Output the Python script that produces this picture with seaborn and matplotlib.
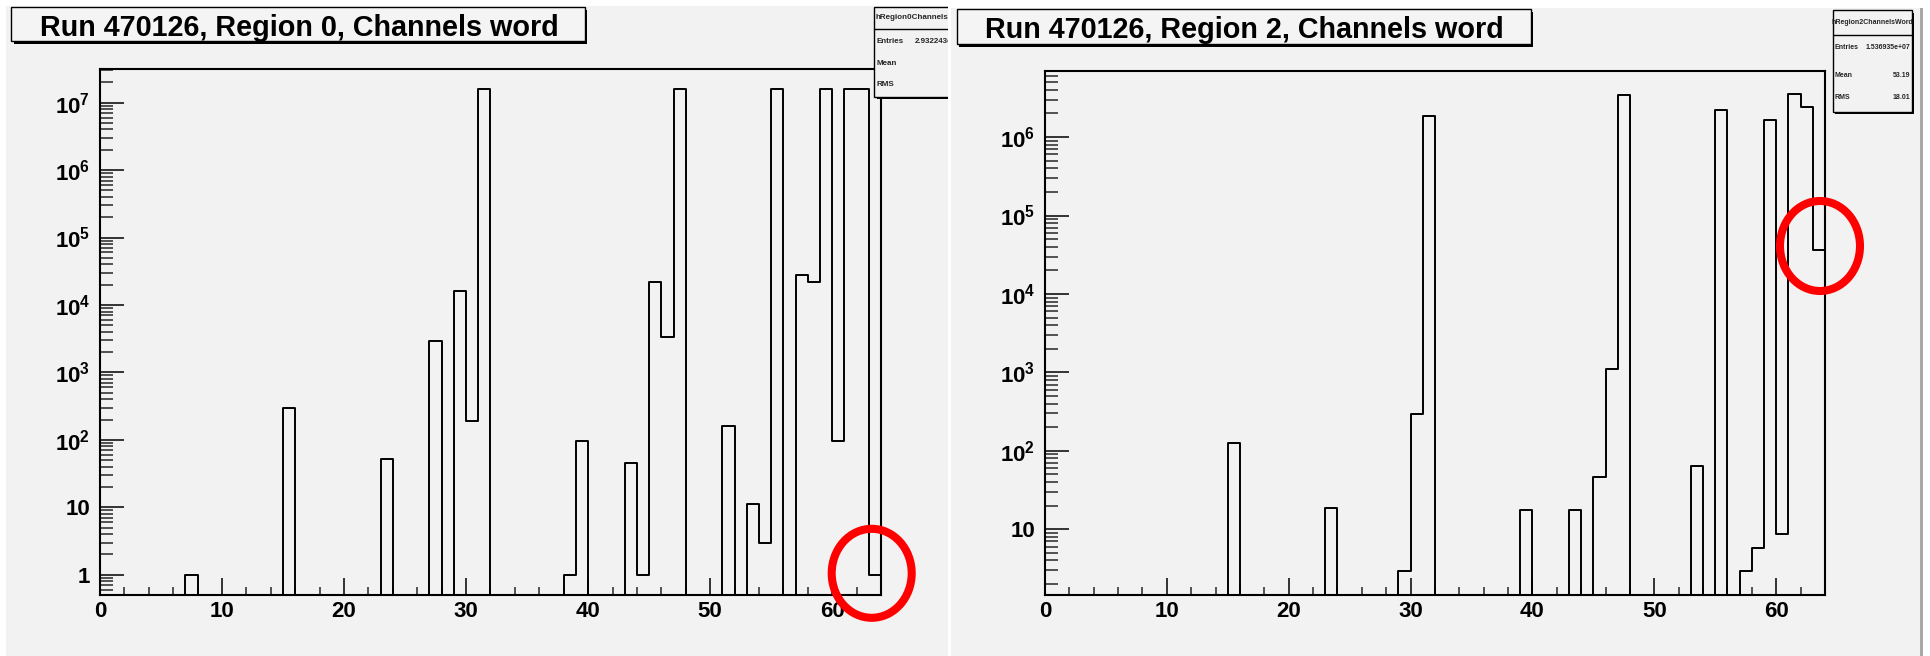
import numpy as np
import pandas as pd
import matplotlib
matplotlib.use("Agg")
import matplotlib.pyplot as plt
import seaborn as sns
from matplotlib.patches import Rectangle, Ellipse
from matplotlib.lines import Line2D
from matplotlib.transforms import Bbox, TransformedBbox
from matplotlib.ticker import (FixedLocator, FixedFormatter, LogLocator,
                               MultipleLocator, NullFormatter)

# ---------------- data ----------------
bin_edges = list(range(0, 65))
channels = [i + 0.5 for i in range(64)]

region0_counts = [
    0, 0, 0, 0, 0, 0, 0, 1,            # 0-7
    0, 0, 0, 0, 0, 0, 0, 300,          # 8-15
    0, 0, 0, 0, 0, 0, 0, 52,           # 16-23
    0, 0, 0, 2900, 0, 16000, 190, 1.6e7,   # 24-31
    0, 0, 0, 0, 0, 0, 1, 95,           # 32-39
    0, 0, 0, 45, 1, 22000, 3300, 1.6e7,    # 40-47
    0, 0, 0, 160, 0, 11, 3, 1.6e7,     # 48-55
    0, 28000, 22000, 1.6e7, 95, 1.6e7, 1.6e7, 1,  # 56-63
]

region2_counts = [
    0, 0, 0, 0, 0, 0, 0, 0,            # 0-7
    0, 0, 0, 0, 0, 0, 0, 124,          # 8-15
    0, 0, 0, 0, 0, 0, 0, 18.6,         # 16-23
    0, 0, 0, 0, 0, 2.9, 297, 1.85e6,   # 24-31
    0, 0, 0, 0, 0, 0, 0, 17.6,         # 32-39
    0, 0, 0, 17.6, 0, 45.7, 1100, 3.45e6,  # 40-47
    0, 0, 0, 0, 0, 63.5, 0, 2.2e6,     # 48-55
    0, 2.9, 5.8, 1.63e6, 8.8, 3.55e6, 2.4e6, 36000,  # 56-63
]

titles = ["Run 470126, Region 0, Channels word",
          "Run 470126, Region 2, Channels word"]

x_ticks = [0, 10, 20, 30, 40, 50, 60]

left_yticks = [1, 10, 1e2, 1e3, 1e4, 1e5, 1e6, 1e7]
left_ylabels = ["1", "10", r"$\mathbf{10^{2}}$", r"$\mathbf{10^{3}}$",
                r"$\mathbf{10^{4}}$", r"$\mathbf{10^{5}}$", r"$\mathbf{10^{6}}$",
                r"$\mathbf{10^{7}}$"]
right_yticks = [10, 1e2, 1e3, 1e4, 1e5, 1e6]
right_ylabels = ["10", r"$\mathbf{10^{2}}$", r"$\mathbf{10^{3}}$",
                 r"$\mathbf{10^{4}}$", r"$\mathbf{10^{5}}$", r"$\mathbf{10^{6}}$"]

stats_left_name = "hRegion0ChannelsWord"
stats_left_rows = [("Entries", "2.932243e+07"), ("Mean", ""), ("RMS", "")]
stats_right_name = "hRegion2ChannelsWord"
stats_right_rows = [("Entries", "1.536935e+07"), ("Mean", "53.19"), ("RMS", "18.01")]

# ---------------- style ----------------
sns.set_style("white")
plt.rcParams["font.family"] = ["Liberation Sans", "DejaVu Sans"]
plt.rcParams["font.weight"] = "bold"
plt.rcParams["mathtext.fontset"] = "custom"
plt.rcParams["mathtext.rm"] = "Liberation Sans"
plt.rcParams["mathtext.bf"] = "Liberation Sans:bold"

W, H = 1931, 656
PANEL = "#F2F2F2"
fig = plt.figure(figsize=(W / 100, H / 100), dpi=100, facecolor="white")

# background panels
bg = fig.add_axes([0, 0, 1, 1], zorder=0)
bg.set_xlim(0, W); bg.set_ylim(H, 0); bg.axis("off")
bg.add_patch(Rectangle((6, 6), 942, 650, fc=PANEL, ec="none"))
bg.add_patch(Rectangle((951, 8), 969, 648, fc=PANEL, ec="none"))
bg.add_patch(Rectangle((1920, 8), 3, 648, fc="#A9A9A9", ec="none"))


def make_panel(x0, y0, x1, y1, counts, ylim, yticks, ylabels):
    ax = fig.add_axes([x0 / W, 1 - y1 / H, (x1 - x0) / W, (y1 - y0) / H], zorder=1)
    ax.set_facecolor("none")
    df = pd.DataFrame({"channel": channels, "entries": counts})
    sns.histplot(data=df, x="channel", weights="entries", bins=bin_edges,
                 element="step", fill=False, color="black", linewidth=1.4, ax=ax)
    ax.set_yscale("log")
    ax.set_xlim(0, 64)
    ax.set_ylim(*ylim)
    ax.set_xlabel(""); ax.set_ylabel("")
    ax.xaxis.set_major_locator(FixedLocator(x_ticks))
    ax.xaxis.set_minor_locator(MultipleLocator(2))
    ax.yaxis.set_major_locator(FixedLocator(yticks))
    ax.yaxis.set_major_formatter(FixedFormatter(ylabels))
    ax.yaxis.set_minor_locator(LogLocator(base=10, subs=np.arange(2, 10), numticks=100))
    ax.yaxis.set_minor_formatter(NullFormatter())
    ax.tick_params(axis="x", which="major", direction="in", length=12, width=1.1,
                   top=False, bottom=True, labelsize=16, pad=4, colors="black")
    ax.tick_params(axis="x", which="minor", direction="in", length=6, width=1.1,
                   top=False, bottom=True)
    ax.tick_params(axis="y", which="major", direction="in", length=17, width=1.1,
                   right=False, left=True, labelsize=16, pad=7, colors="black")
    ax.tick_params(axis="y", which="minor", direction="in", length=9, width=1.1,
                   right=False, left=True)
    for lab in ax.get_xticklabels() + ax.get_yticklabels():
        lab.set_fontweight("bold")
    for sp in ax.spines.values():
        sp.set_visible(True)
        sp.set_linewidth(1.5)
        sp.set_color("black")
    ax.grid(False)
    return ax


make_panel(100, 68.6, 881, 595, region0_counts, (0.5, 3.2e7), left_yticks, left_ylabels)
make_panel(1045, 71.3, 1825, 595, region2_counts, (1.45, 6.9e6), right_yticks, right_ylabels)

# overlay: title boxes, stats boxes, red circles
ov = fig.add_axes([0, 0, 1, 1], zorder=3)
ov.set_xlim(0, W); ov.set_ylim(H, 0); ov.axis("off")
ov.patch.set_alpha(0)


def shadow_box(x0, y0, x1, y1, fc, clip=None, sh=2.5, lw=1.0):
    arts = [Rectangle((x0 + sh, y0 + sh), x1 - x0, y1 - y0, fc="black", ec="none"),
            Rectangle((x0, y0), x1 - x0, y1 - y0, fc=fc, ec="black", lw=lw)]
    for a in arts:
        ov.add_patch(a)
        if clip is not None:
            a.set_clip_box(clip)
    return arts


# titles
shadow_box(11.5, 7, 585, 41, "#F4F4F4")
ov.text(299, 36, titles[0], ha="center", va="baseline", fontsize=20.7,
        fontweight="bold", color="black")
shadow_box(957, 9, 1531, 44, "#F4F4F4")
ov.text(1244, 38.5, titles[1], ha="center", va="baseline", fontsize=20.7,
        fontweight="bold", color="black")

# left stats box (clipped at the panel edge)
clipL = TransformedBbox(Bbox([[0, 0], [948, H]]), ov.transData)
shadow_box(874.3, 6.7, 990, 96.5, PANEL, clip=clipL)
sep = Line2D([874.3, 990], [29.3, 29.3], color="black", lw=1.0)
ov.add_line(sep); sep.set_clip_box(clipL)
t = ov.text(875.5, 17.5, stats_left_name, ha="left", va="center", fontsize=5.8,
            fontweight="bold", clip_on=True)
t.set_clip_box(clipL)
for (lab, val), yy in zip(stats_left_rows, [41.3, 63.3, 85.0]):
    t = ov.text(877, yy, lab, ha="left", va="center", fontsize=5.8,
                fontweight="bold", clip_on=True)
    t.set_clip_box(clipL)
    if val:
        t = ov.text(915, yy, val, ha="left", va="center", fontsize=5.8,
                    fontweight="bold", clip_on=True)
        t.set_clip_box(clipL)

# right stats box
shadow_box(1832.7, 10, 1911.7, 111.5, PANEL)
ov.add_line(Line2D([1832.7, 1911.7], [35, 35], color="black", lw=1.0))
ov.text(1872, 22.3, stats_right_name, ha="center", va="center", fontsize=5,
        fontweight="bold")
for (lab, val), yy in zip(stats_right_rows, [47.7, 75.7, 97.7]):
    ov.text(1835, yy, lab, ha="left", va="center", fontsize=5, fontweight="bold")
    ov.text(1910, yy, val, ha="right", va="center", fontsize=5, fontweight="bold")

# red highlight circles
ov.add_patch(Ellipse((871.7, 573.3), 80, 89, fc="none", ec="#FF0000", lw=5.8))
ov.add_patch(Ellipse((1820, 246), 80, 90, fc="none", ec="#FF0000", lw=5.8))

fig.savefig("out.png", dpi=100, facecolor="white")
